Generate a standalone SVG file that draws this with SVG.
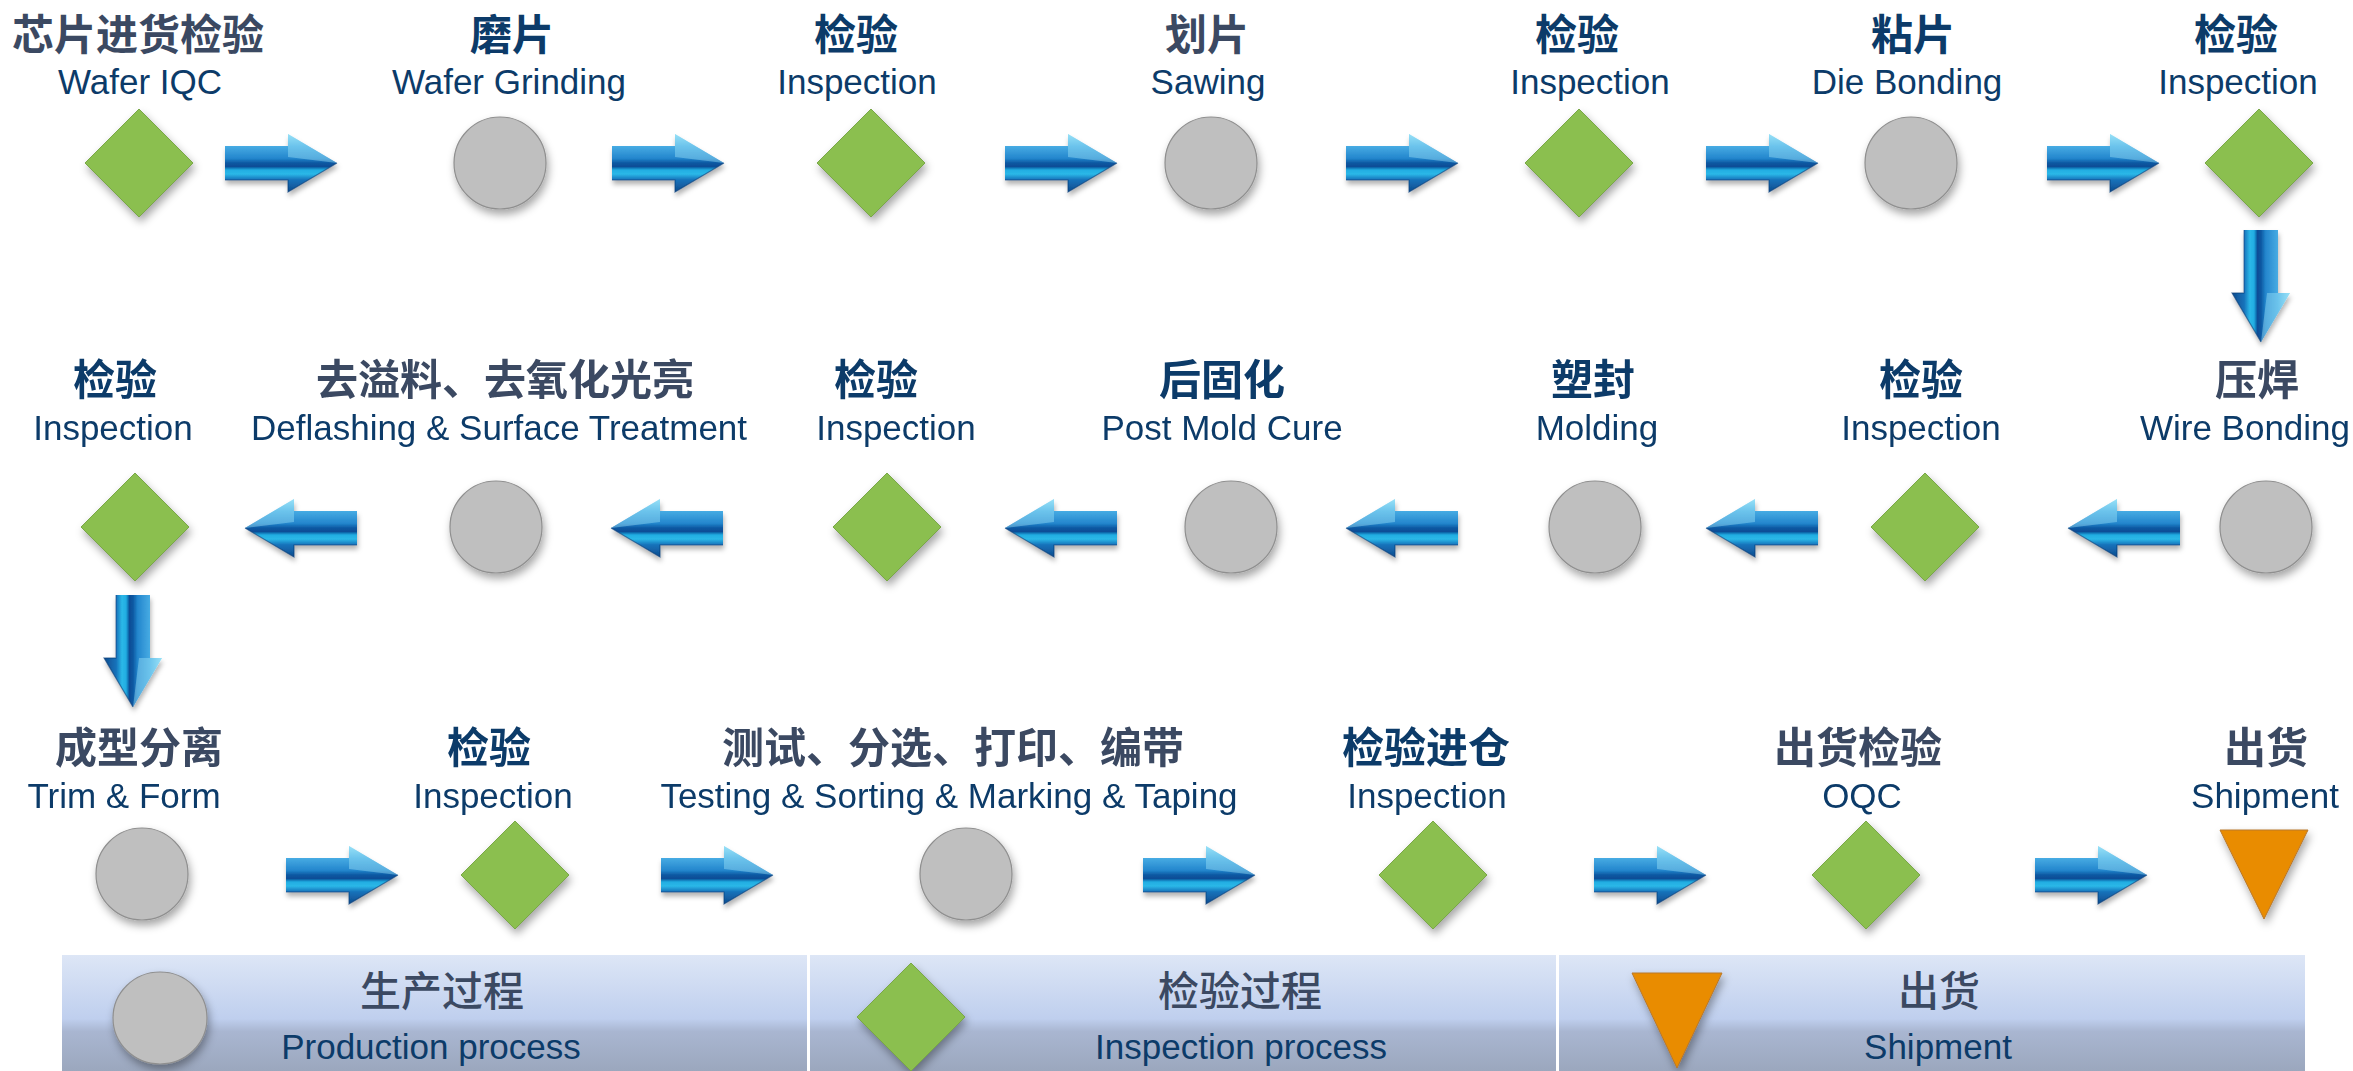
<svg xmlns="http://www.w3.org/2000/svg" xmlns:xlink="http://www.w3.org/1999/xlink" width="2353" height="1071" viewBox="0 0 2353 1071">
<style>
.cnn{font-family:"Liberation Sans","Noto Sans CJK SC",sans-serif;font-size:42px;font-weight:bold;fill:#0c3b69;text-anchor:middle}
.cng{font-family:"Liberation Sans","Noto Sans CJK SC",sans-serif;font-size:42px;font-weight:bold;fill:#3b4962;text-anchor:middle}
.en{font-family:"Liberation Sans",Arial,sans-serif;font-size:35px;fill:#0c3b69;text-anchor:middle}
.lcn{font-family:"Liberation Sans","Noto Sans CJK SC",sans-serif;font-size:41px;font-weight:500;fill:#3b4962;text-anchor:middle}
.len{font-family:"Liberation Sans",Arial,sans-serif;font-size:35px;fill:#0c3b69;text-anchor:middle}
.circ{fill:#bfbfbf;stroke:#8f8f8f;stroke-width:1.2}
.dia{fill:#8bbf4f;stroke:#79a846;stroke-width:1}
.tri{fill:#e98c05;stroke:#b9782a;stroke-width:1}
</style>
<defs>
<filter id="nsh" x="-30%" y="-30%" width="160%" height="170%">
<feDropShadow dx="2" dy="5" stdDeviation="4" flood-color="#000" flood-opacity="0.35"/>
</filter>
<filter id="ash" x="-20%" y="-30%" width="140%" height="170%">
<feDropShadow dx="1" dy="4" stdDeviation="2.5" flood-color="#000" flood-opacity="0.3"/>
</filter>
<linearGradient id="ag" x1="0" y1="-29" x2="0" y2="29" gradientUnits="userSpaceOnUse">
<stop offset="0" stop-color="#8fdcf5"/>
<stop offset="0.21" stop-color="#46abe3"/>
<stop offset="0.42" stop-color="#2486cd"/>
<stop offset="0.5" stop-color="#0c58a2"/>
<stop offset="0.56" stop-color="#0a4d96"/>
<stop offset="0.62" stop-color="#22ade2"/>
<stop offset="0.69" stop-color="#2ab8e8"/>
<stop offset="0.79" stop-color="#1872ba"/>
<stop offset="1" stop-color="#0d4c8e"/>
</linearGradient>
<linearGradient id="legbar" x1="0" y1="0" x2="0" y2="1">
<stop offset="0" stop-color="#dde6f6"/>
<stop offset="0.55" stop-color="#bfcfee"/>
<stop offset="0.66" stop-color="#a9b6d1"/>
<stop offset="1" stop-color="#9ba7bd"/>
</linearGradient>
<g id="arrow">
<path d="M0,-17 L63,-17 L63,-29 L112,0 L63,29 L63,17 L0,17 Z" fill="url(#ag)"/>
<path d="M63,-29 L112,0 L63,-6 Z" fill="#a6e8fb" opacity="0.4"/>
<path d="M0,17 L63,17 L63,29 L112,0" fill="none" stroke="#0a3c75" stroke-width="1.2" opacity="0.6"/>
</g>
<polygon id="dmd" points="0,-54 54,0 0,54 -54,0"/>
</defs>

<g id="connectors" filter="url(#ash)">
<use href="#arrow" transform="translate(225,163)"/>
<use href="#arrow" transform="translate(612,163)"/>
<use href="#arrow" transform="translate(1005,163)"/>
<use href="#arrow" transform="translate(1346,163)"/>
<use href="#arrow" transform="translate(1706,163)"/>
<use href="#arrow" transform="translate(2047,163)"/>
<use href="#arrow" transform="translate(2261,230) rotate(90)"/>
<use href="#arrow" transform="translate(2180,528) scale(-1,1)"/>
<use href="#arrow" transform="translate(1818,528) scale(-1,1)"/>
<use href="#arrow" transform="translate(1458,528) scale(-1,1)"/>
<use href="#arrow" transform="translate(1117,528) scale(-1,1)"/>
<use href="#arrow" transform="translate(723,528) scale(-1,1)"/>
<use href="#arrow" transform="translate(357,528) scale(-1,1)"/>
<use href="#arrow" transform="translate(133,595) rotate(90)"/>
<use href="#arrow" transform="translate(286,875)"/>
<use href="#arrow" transform="translate(661,875)"/>
<use href="#arrow" transform="translate(1143,875)"/>
<use href="#arrow" transform="translate(1594,875)"/>
<use href="#arrow" transform="translate(2035,875)"/>
</g>

<!-- Row 1 -->
<g id="wafer-iqc">
<text class="cng" x="138" y="50">芯片进货检验</text>
<text class="en" x="140" y="94">Wafer IQC</text>
<use href="#dmd" class="dia" filter="url(#nsh)" transform="translate(139,163)"/>
</g>
<g id="wafer-grinding">
<text class="cnn" x="512" y="50">磨片</text>
<text class="en" x="509" y="94">Wafer Grinding</text>
<circle class="circ" filter="url(#nsh)" cx="500" cy="163" r="46"/>
</g>
<g id="inspection-1">
<text class="cnn" x="856" y="50">检验</text>
<text class="en" x="857" y="94">Inspection</text>
<use href="#dmd" class="dia" filter="url(#nsh)" transform="translate(871,163)"/>
</g>
<g id="sawing">
<text class="cng" x="1207" y="50">划片</text>
<text class="en" x="1208" y="94">Sawing</text>
<circle class="circ" filter="url(#nsh)" cx="1211" cy="163" r="46"/>
</g>
<g id="inspection-2">
<text class="cnn" x="1577" y="50">检验</text>
<text class="en" x="1590" y="94">Inspection</text>
<use href="#dmd" class="dia" filter="url(#nsh)" transform="translate(1579,163)"/>
</g>
<g id="die-bonding">
<text class="cnn" x="1913" y="50">粘片</text>
<text class="en" x="1907" y="94">Die Bonding</text>
<circle class="circ" filter="url(#nsh)" cx="1911" cy="163" r="46"/>
</g>
<g id="inspection-3">
<text class="cnn" x="2236" y="50">检验</text>
<text class="en" x="2238" y="94">Inspection</text>
<use href="#dmd" class="dia" filter="url(#nsh)" transform="translate(2259,163)"/>
</g>

<!-- Row 2 -->
<g id="wire-bonding">
<text class="cng" x="2257" y="395">压焊</text>
<text class="en" x="2245" y="440">Wire Bonding</text>
<circle class="circ" filter="url(#nsh)" cx="2266" cy="527" r="46"/>
</g>
<g id="inspection-4">
<text class="cnn" x="1921" y="395">检验</text>
<text class="en" x="1921" y="440">Inspection</text>
<use href="#dmd" class="dia" filter="url(#nsh)" transform="translate(1925,527)"/>
</g>
<g id="molding">
<text class="cnn" x="1593" y="395">塑封</text>
<text class="en" x="1597" y="440">Molding</text>
<circle class="circ" filter="url(#nsh)" cx="1595" cy="527" r="46"/>
</g>
<g id="post-mold-cure">
<text class="cnn" x="1222" y="395">后固化</text>
<text class="en" x="1222" y="440">Post Mold Cure</text>
<circle class="circ" filter="url(#nsh)" cx="1231" cy="527" r="46"/>
</g>
<g id="inspection-5">
<text class="cnn" x="876" y="395">检验</text>
<text class="en" x="896" y="440">Inspection</text>
<use href="#dmd" class="dia" filter="url(#nsh)" transform="translate(887,527)"/>
</g>
<g id="deflashing">
<text class="cng" x="505" y="395">去溢料、去氧化光亮</text>
<text class="en" x="499" y="440">Deflashing &amp; Surface Treatment</text>
<circle class="circ" filter="url(#nsh)" cx="496" cy="527" r="46"/>
</g>
<g id="inspection-6">
<text class="cnn" x="115" y="395">检验</text>
<text class="en" x="113" y="440">Inspection</text>
<use href="#dmd" class="dia" filter="url(#nsh)" transform="translate(135,527)"/>
</g>

<!-- Row 3 -->
<g id="trim-form">
<text class="cng" x="139" y="763">成型分离</text>
<text class="en" x="124" y="808">Trim &amp; Form</text>
<circle class="circ" filter="url(#nsh)" cx="142" cy="874" r="46"/>
</g>
<g id="inspection-7">
<text class="cnn" x="489" y="763">检验</text>
<text class="en" x="493" y="808">Inspection</text>
<use href="#dmd" class="dia" filter="url(#nsh)" transform="translate(515,875)"/>
</g>
<g id="testing">
<text class="cng" x="953" y="763">测试、分选、打印、编带</text>
<text class="en" x="949" y="808">Testing &amp; Sorting &amp; Marking &amp; Taping</text>
<circle class="circ" filter="url(#nsh)" cx="966" cy="874" r="46"/>
</g>
<g id="inspection-8">
<text class="cnn" x="1426" y="763">检验进仓</text>
<text class="en" x="1427" y="808">Inspection</text>
<use href="#dmd" class="dia" filter="url(#nsh)" transform="translate(1433,875)"/>
</g>
<g id="oqc">
<text class="cng" x="1858" y="763">出货检验</text>
<text class="en" x="1862" y="808">OQC</text>
<use href="#dmd" class="dia" filter="url(#nsh)" transform="translate(1866,875)"/>
</g>
<g id="shipment">
<text class="cng" x="2266" y="763">出货</text>
<text class="en" x="2265" y="808">Shipment</text>
<polygon class="tri" filter="url(#nsh)" points="2220,830 2308,830 2264,919"/>
</g>

<!-- Legend -->
<g id="legend">
<rect x="62" y="955" width="2243" height="116" fill="url(#legbar)"/>
<rect x="807" y="955" width="3" height="116" fill="#ffffff"/>
<rect x="1556" y="955" width="3" height="116" fill="#ffffff"/>
<ellipse class="circ" filter="url(#nsh)" cx="160" cy="1018" rx="47" ry="46"/>
<text class="lcn" x="442" y="1006">生产过程</text>
<text class="len" x="431" y="1059">Production process</text>
<use href="#dmd" class="dia" filter="url(#nsh)" transform="translate(911,1017)"/>
<text class="lcn" x="1240" y="1006">检验过程</text>
<text class="len" x="1241" y="1059">Inspection process</text>
<polygon class="tri" filter="url(#nsh)" points="1632,973 1722,973 1677,1068"/>
<text class="lcn" x="1939" y="1006">出货</text>
<text class="len" x="1938" y="1059">Shipment</text>
</g>
</svg>
